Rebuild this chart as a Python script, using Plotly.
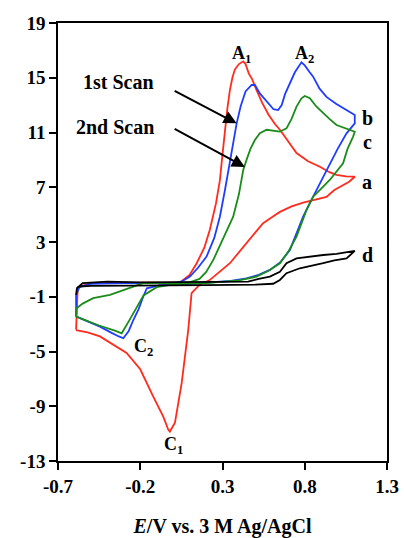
import plotly.graph_objects as go

# ---- data (E in V, current) ----
a_x = [-0.59, -0.58, -0.5, -0.2, 0.0, 0.041, 0.1, 0.143, 0.19, 0.223, 0.26, 0.284, 0.30, 0.315, 0.33, 0.345, 0.36, 0.375, 0.40, 0.426,
       0.44, 0.46, 0.48, 0.507, 0.54, 0.58, 0.62, 0.649, 0.70, 0.75, 0.82, 0.892, 0.95, 0.993, 1.05, 1.104,
       1.07, 1.033, 0.98, 0.932, 0.86, 0.79, 0.72, 0.649, 0.60, 0.547, 0.50, 0.446, 0.40, 0.345, 0.28, 0.22, 0.163,
       0.112, 0.092, 0.052, 0.011, -0.02, -0.03, -0.06, -0.121, -0.2, -0.283, -0.35, -0.445, -0.52, -0.591]
a_y = [-3.4, -0.3, 0.0, 0.0, 0.0, 0.05, 0.6, 1.45, 2.6, 3.9, 5.8, 7.5, 9.4, 11.2, 12.8, 14.1, 15.0, 15.6, 16.0, 16.2,
       16.0, 15.3, 14.9, 14.1, 13.2, 12.3, 11.6, 11.2, 10.3, 9.5, 8.9, 8.5, 8.1, 7.9, 7.8, 7.77,
       7.4, 7.17, 6.8, 6.3, 6.1, 5.87, 5.6, 5.2, 4.8, 4.37, 3.7, 2.9, 2.2, 1.45, 0.8, 0.2, -0.1,
       -0.74, -3.4, -7.3, -10.2, -10.85, -10.7, -9.76, -8.3, -6.3, -5.1, -4.6, -3.9, -3.6, -3.43]

b_x = [-0.59, -0.59, -0.57, -0.5, -0.3, 0.0, 0.05, 0.102, 0.15, 0.203, 0.25, 0.284, 0.315, 0.345, 0.365, 0.386, 0.41, 0.44, 0.477,
       0.497, 0.527, 0.558, 0.588, 0.61, 0.638, 0.66, 0.68, 0.71, 0.74, 0.78, 0.80, 0.83, 0.851, 0.89, 0.932, 0.99, 1.054, 1.104, 1.104,
       1.054, 1.0, 0.932, 0.89, 0.851, 0.79, 0.75, 0.71, 0.65, 0.588, 0.52, 0.446, 0.35, 0.2, 0.05, -0.08, -0.16, -0.182, -0.21,
       -0.242, -0.27, -0.303, -0.33, -0.38, -0.445, -0.52, -0.587]
b_y = [-2.45, -0.87, -0.3, -0.05, 0.0, 0.0, 0.1, 0.47, 1.1, 1.93, 3.3, 4.85, 6.8, 8.75, 10.3, 11.67, 12.9, 14.0, 14.47,
       14.47, 13.86, 13.4, 13.0, 12.7, 12.64, 13.0, 13.8, 14.6, 15.4, 16.13, 15.9, 15.4, 15.08, 14.2, 13.6, 13.1, 12.64, 12.28, 11.67,
       10.94, 9.8, 8.26, 7.2, 6.31, 4.85, 3.6, 2.42, 1.5, 0.96, 0.6, 0.35, 0.15, 0.0, -0.1, -0.15, -0.38, -1.0, -1.9,
       -2.7, -3.5, -4.03, -3.9, -3.6, -3.18, -2.8, -2.45]

c_x = [-0.59, -0.587, -0.55, -0.486, -0.384, -0.32, -0.263, -0.182, 0.0, 0.1, 0.16, 0.2, 0.244, 0.3, 0.365, 0.40, 0.426, 0.446,
       0.47, 0.497, 0.527, 0.568, 0.60, 0.649, 0.689, 0.72, 0.75, 0.78, 0.80, 0.831, 0.87, 0.912, 0.95, 0.993, 1.05, 1.104,
       1.094, 1.06, 1.033, 0.99, 0.952, 0.9, 0.851, 0.811, 0.78, 0.75, 0.70, 0.649, 0.58, 0.507, 0.4, 0.2, 0.0, -0.1, -0.18,
       -0.22, -0.27, -0.313, -0.35, -0.45, -0.52, -0.59]
c_y = [-2.45, -1.84, -1.5, -1.1, -0.87, -0.6, -0.38, 0.0, 0.0, 0.05, 0.3, 0.8, 1.69, 3.2, 4.85, 6.5, 8.26, 9.0,
       9.8, 10.45, 10.94, 11.2, 11.15, 11.06, 11.3, 12.0, 12.89, 13.5, 13.67, 13.5, 12.9, 12.4, 12.0, 11.55, 11.3, 11.06,
       10.7, 9.8, 8.75, 8.1, 7.53, 6.9, 6.31, 5.34, 4.3, 3.39, 2.3, 1.45, 0.9, 0.47, 0.2, 0.0, -0.1, -0.3, -0.9,
       -1.7, -2.8, -3.67, -3.5, -3.1, -2.75, -2.45]

d_x = [-0.59, -0.585, -0.55, -0.4, -0.2, 0.0, 0.2, 0.456, 0.52, 0.588, 0.649, 0.689, 0.75, 0.83, 0.912, 0.993, 1.05, 1.104,
       1.054, 0.98, 0.912, 0.84, 0.77, 0.689, 0.649, 0.608, 0.5, 0.2, -0.2, -0.5, -0.57]
d_y = [-0.87, -0.38, 0.0, 0.1, 0.05, 0.05, 0.05, 0.1, 0.3, 0.47, 0.83, 1.45, 1.8, 1.95, 2.05, 2.13, 2.25, 2.35,
       1.8, 1.65, 1.45, 1.25, 1.08, 0.72, 0.23, -0.05, -0.12, -0.15, -0.15, -0.2, -0.25]

x_ticks = [-0.7, -0.2, 0.3, 0.8, 1.3]
x_tick_text = ["-0.7", "-0.2", "0.3", "0.8", "1.3"]
y_ticks = [-13, -9, -5, -1, 3, 7, 11, 15, 19]
y_tick_text = ["-13", "-9", "-5", "-1", "3", "7", "11", "15", "19"]

curve_labels = ["a", "b", "c", "d"]
curve_label_y = [7.4, 12.06, 10.3, 2.05]

FONT = "Liberation Serif"

fig = go.Figure()
for xs, ys, col in [(a_x, a_y, "#ff2b1c"), (b_x, b_y, "#1f3dff"), (c_x, c_y, "#1a8c1a"), (d_x, d_y, "#000000")]:
    fig.add_trace(go.Scatter(x=xs, y=ys, mode="lines", line=dict(color=col, width=1.8), showlegend=False))

tick_font = dict(family=FONT, size=19, color="black", weight="bold")
tf = dict(family=FONT, size=20, color="black", weight="bold")
pf = dict(family=FONT, size=18, color="black", weight="bold")
ann = []
for lab, yy in zip(curve_labels, curve_label_y):
    ann.append(dict(x=1.18, y=yy, text=lab, showarrow=False, font=tf, xanchor="center", yanchor="middle"))
ann += [
    dict(x=0.416, y=16.7, text="A<sub>1</sub>", showarrow=False, font=pf, xanchor="center", yanchor="middle"),
    dict(x=0.80, y=16.7, text="A<sub>2</sub>", showarrow=False, font=pf, xanchor="center", yanchor="middle"),
    dict(x=-0.183, y=-4.7, text="C<sub>2</sub>", showarrow=False, font=pf, xanchor="center", yanchor="middle"),
    dict(x=0.0, y=-11.9, text="C<sub>1</sub>", showarrow=False, font=pf, xanchor="center", yanchor="middle"),
    dict(x=-0.335, y=14.7, text="1st Scan", showarrow=False, font=tf, xanchor="center", yanchor="middle"),
    dict(x=-0.353, y=11.4, text="2nd Scan", showarrow=False, font=tf, xanchor="center", yanchor="middle"),
    dict(x=0.386, y=11.67, ax=0.0, ay=14.1, xref="x", yref="y", axref="x", ayref="y", text="",
         showarrow=True, arrowhead=2, arrowsize=1.3, arrowwidth=2, arrowcolor="black"),
    dict(x=0.436, y=8.48, ax=0.0, ay=11.33, xref="x", yref="y", axref="x", ayref="y", text="",
         showarrow=True, arrowhead=2, arrowsize=1.3, arrowwidth=2, arrowcolor="black"),
]

fig.update_layout(
    width=404, height=538,
    margin=dict(l=58, r=17, t=23, b=77),
    paper_bgcolor="white", plot_bgcolor="white",
    annotations=ann,
    xaxis=dict(range=[-0.7, 1.3], tickvals=x_ticks, ticktext=x_tick_text, showgrid=False, zeroline=False,
               showline=True, linecolor="black", linewidth=1.5, mirror=True, automargin=False,
               ticks="outside", ticklen=7, tickwidth=1.5, tickcolor="black", tickfont=tick_font,
               title=dict(text="<b><i>E</i>/V vs. 3 M Ag/AgCl</b>", font=dict(family=FONT, size=20, color="black"), standoff=28)),
    yaxis=dict(range=[-13, 19], tickvals=y_ticks, ticktext=y_tick_text, showgrid=False, zeroline=False,
               showline=True, linecolor="black", linewidth=1.5, mirror=True, automargin=False,
               ticks="outside", ticklen=7, tickwidth=1.5, tickcolor="black", tickfont=tick_font),
)

fig.write_html("out.html", config={"displayModeBar": False},
               post_script="document.body.style.margin='0';document.body.style.overflow='hidden';")
